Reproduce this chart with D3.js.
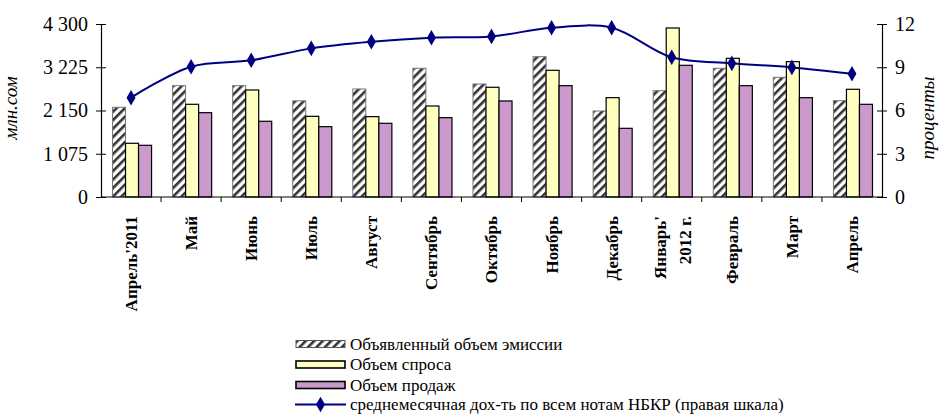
<!DOCTYPE html>
<html>
<head>
<meta charset="utf-8">
<script src="https://cdn.jsdelivr.net/npm/d3@7"></script>
<style>
  html, body { margin: 0; padding: 0; background: #fff; }
  svg { display: block; }
</style>
</head>
<body>
<svg id="chart" width="940" height="414"></svg>
<script>
// Months of the reporting period
const categories = ["Апрель'2011", "Май", "Июнь", "Июль", "Август", "Сентябрь", "Октябрь",
  "Ноябрь", "Декабрь", "Январь'|2012 г.", "Февраль", "Март", "Апрель"];

// Volumes, млн.сом
const emission = [2230, 2767, 2767, 2390, 2685, 3199, 2809, 3488, 2138, 2643, 3199, 2975, 2394];
const demand   = [1335, 2304, 2660, 2005, 1997, 2262, 2727, 3149, 2469, 4201, 3447, 3364, 2677];
const sales    = [1285, 2096, 1882, 1748, 1832, 1972, 2387, 2767, 1707, 3273, 2767, 2469, 2304];

// Average monthly yield on all NBKR notes, %
const yieldPct = [6.89, 9.04, 9.48, 10.31, 10.77, 11.05, 11.14, 11.74, 11.74, 9.69, 9.27, 8.99, 8.55];

// Axis ticks
const leftTicks = [0, 1075, 2150, 3225, 4300];
const rightTicks = [0, 3, 6, 9, 12];

const seriesNames = ["Объявленный объем эмиссии", "Объем спроса", "Объем продаж",
  "среднемесячная дох-ть по всем нотам НБКР (правая шкала)"];

const FONT = "Liberation Serif";

const svg = d3.select("#chart").attr("font-family", FONT);
const plot = { left: 101, right: 882, top: 24, bottom: 197 };

const x0 = d3.scaleBand().domain(categories).range([plot.left, plot.right]).padding(0);
const groupW = x0.bandwidth() * 0.65;
const x1 = d3.scaleBand().domain([0, 1, 2]).range([0, groupW]).padding(0);
const yL = d3.scaleLinear().domain([0, 4300]).range([plot.bottom, plot.top]);
const yR = d3.scaleLinear().domain([0, 12]).range([plot.bottom, plot.top]);

const ru = d3.formatLocale({ decimal: ",", thousands: " ", grouping: [3], currency: ["", ""] });
const fmt = ru.format(",d");

// Hatch pattern for the announced-emission bars
const defs = svg.append("defs");
const pat = defs.append("pattern")
  .attr("id", "hatch").attr("patternUnits", "userSpaceOnUse")
  .attr("width", 6).attr("height", 6)
  .attr("patternTransform", "rotate(45)");
pat.append("rect").attr("width", 6).attr("height", 6).attr("fill", "#fff");
pat.append("rect").attr("x", 0).attr("width", 2.6).attr("height", 6).attr("fill", "#333");

const styles = [
  { fill: "url(#hatch)", stroke: "#777", sw: 1 },
  { fill: "#FFFFC0", stroke: "#000", sw: 1.2 },
  { fill: "#CC99CC", stroke: "#000", sw: 1.2 }
];
const seriesVals = [emission, demand, sales];

// Bars
const groups = svg.append("g").selectAll("g")
  .data(categories).join("g")
  .attr("transform", d => `translate(${x0(d) + (x0.bandwidth() - groupW) / 2 + 1},0)`);

groups.selectAll("rect")
  .data((d, i) => seriesVals.map((s, k) => ({ k, v: s[i] })))
  .join("rect")
  .attr("x", d => x1(d.k))
  .attr("width", x1.bandwidth())
  .attr("y", d => yL(d.v))
  .attr("height", d => plot.bottom - yL(d.v))
  .attr("fill", d => styles[d.k].fill)
  .attr("stroke", d => styles[d.k].stroke)
  .attr("stroke-width", d => styles[d.k].sw);

// Axes
const axL = svg.append("g").attr("transform", `translate(${plot.left},0)`)
  .call(d3.axisLeft(yL).tickValues(leftTicks).tickFormat(fmt).tickSize(0).tickPadding(13));
const axR = svg.append("g").attr("transform", `translate(${plot.right},0)`)
  .call(d3.axisRight(yR).tickValues(rightTicks).tickSize(0).tickPadding(13));
[axL, axR].forEach(ax => {
  ax.attr("font-family", FONT);
  ax.select(".domain").attr("stroke", "#000").attr("stroke-width", 1.2);
  ax.selectAll(".tick text").attr("font-size", 20).attr("fill", "#000");
  ax.selectAll(".tick").append("line").attr("x1", -5).attr("x2", 5).attr("stroke", "#000");
});

// Category axis
const axB = svg.append("g").attr("transform", `translate(0,${plot.bottom})`);
axB.append("line").attr("x1", plot.left).attr("x2", plot.right)
  .attr("stroke", "#000").attr("stroke-width", 1.2);
axB.selectAll(".tk").data(categories.slice(1)).join("line")
  .attr("x1", d => x0(d)).attr("x2", d => x0(d)).attr("y1", 0).attr("y2", 5)
  .attr("stroke", "#000");

const labels = axB.selectAll(".lab").data(categories).join("text")
  .attr("transform", d => `translate(${x0(d) + x0.bandwidth() / 2},19) rotate(-90)`)
  .attr("text-anchor", "end")
  .attr("font-size", 17).attr("font-weight", "bold");
labels.each(function (d) {
  const parts = d.split("|");
  const t = d3.select(this);
  parts.forEach((p, i) => {
    t.append("tspan").attr("x", 0)
      .attr("dy", i === 0 ? (parts.length === 1 ? "0.35em" : "-0.35em") : "1.5em")
      .text(p);
  });
});

// Axis titles
svg.append("text").attr("transform", "translate(17,108) rotate(-90)")
  .attr("text-anchor", "middle").attr("font-style", "italic").attr("font-size", 19)
  .text("млн.сом");
svg.append("text").attr("transform", "translate(934,118) rotate(-90)")
  .attr("text-anchor", "middle").attr("font-style", "italic").attr("font-size", 19)
  .text("проценты");

// Yield line on the right scale
const cx = (d, i) => x0(categories[i]) + x0.bandwidth() / 2;
const line = d3.line().x(cx).y(d => yR(d)).curve(d3.curveCatmullRom.alpha(0.5));
svg.append("path").datum(yieldPct).attr("d", line)
  .attr("fill", "none").attr("stroke", "#000080").attr("stroke-width", 2);
const diamond = d3.symbol().type(d3.symbolDiamond).size(70);
svg.append("g").selectAll("path").data(yieldPct).join("path")
  .attr("d", diamond)
  .attr("transform", (d, i) => `translate(${cx(d, i)},${yR(d)})`)
  .attr("fill", "#000080");

// Legend
const legend = svg.append("g");
const rowsY = [344, 364.5, 385, 404.5];
[0, 1, 2].forEach(k => {
  legend.append("rect").attr("x", 296).attr("y", rowsY[k] - 3.5).attr("width", 49).attr("height", 7)
    .attr("fill", styles[k].fill).attr("stroke", k === 0 ? "#555" : "#000")
    .attr("stroke-width", k === 0 ? 1 : 1.6);
});
legend.append("line").attr("x1", 295).attr("x2", 346).attr("y1", rowsY[3]).attr("y2", rowsY[3])
  .attr("stroke", "#000080").attr("stroke-width", 2);
legend.append("path").attr("d", diamond).attr("transform", `translate(320.5,${rowsY[3]})`)
  .attr("fill", "#000080");
legend.selectAll("text").data(seriesNames).join("text")
  .attr("x", 350).attr("y", (d, i) => rowsY[i]).attr("dy", "0.35em")
  .attr("font-size", 17).text(d => d);
</script>
</body>
</html>
